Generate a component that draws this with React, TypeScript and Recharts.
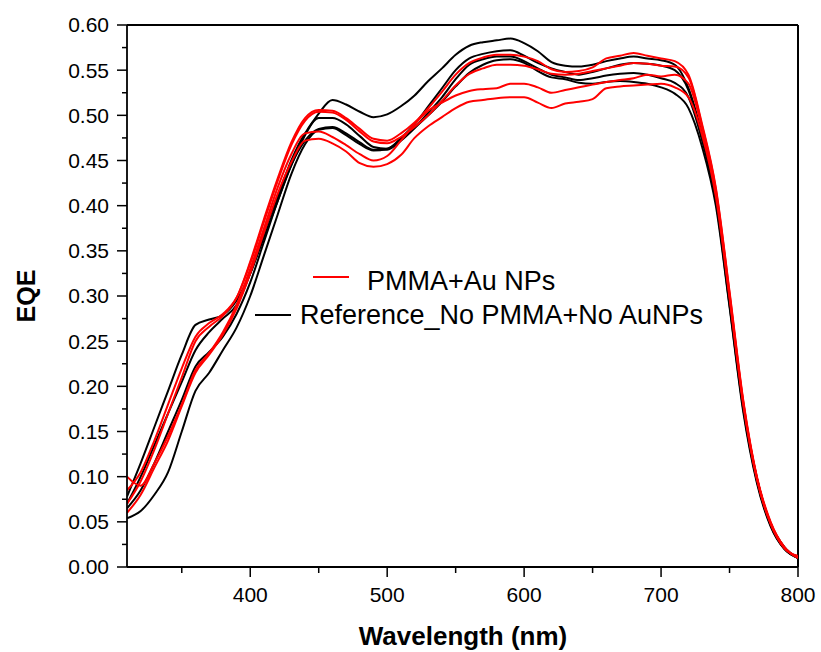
import { LineChart, Line, XAxis, YAxis, ReferenceLine } from 'recharts';

const wavelengths = [
  310, 320, 330, 340, 350, 360, 370, 380, 390, 400,
  410, 420, 430, 440, 450, 460, 470, 480, 490, 500,
  510, 520, 530, 540, 550, 560, 570, 580, 590, 600,
  610, 620, 630, 640, 650, 660, 670, 680, 690, 700,
  710, 720, 730, 740, 750, 760, 770, 780, 790, 800,
];

// PMMA + Au NPs devices (red)
const pmmaAu1 = [
  0.085, 0.105, 0.14, 0.18, 0.22, 0.255, 0.27, 0.28, 0.298, 0.338,
  0.385, 0.43, 0.47, 0.497, 0.506, 0.505, 0.497, 0.485, 0.474, 0.472,
  0.48, 0.492, 0.508, 0.526, 0.545, 0.558, 0.564, 0.567, 0.567, 0.565,
  0.56, 0.551, 0.548, 0.549, 0.553, 0.563, 0.566, 0.569, 0.566, 0.563,
  0.56, 0.545, 0.49, 0.42, 0.305, 0.185, 0.1, 0.05, 0.022, 0.01,
];
const pmmaAu2 = [
  0.07, 0.095, 0.13, 0.17, 0.21, 0.25, 0.266, 0.278, 0.298, 0.336,
  0.382, 0.427, 0.467, 0.494, 0.504, 0.503, 0.495, 0.482, 0.471, 0.469,
  0.476, 0.487, 0.5, 0.516, 0.533, 0.546, 0.552, 0.556, 0.556, 0.555,
  0.551, 0.546, 0.545, 0.546, 0.549, 0.552, 0.555, 0.558, 0.557, 0.555,
  0.554, 0.542, 0.488, 0.418, 0.303, 0.183, 0.099, 0.049, 0.022, 0.01,
];
const pmmaAu3 = [
  0.1, 0.09, 0.115, 0.145, 0.18, 0.218, 0.237, 0.26, 0.29, 0.33,
  0.375, 0.42, 0.457, 0.48, 0.482, 0.476, 0.467, 0.457, 0.45, 0.455,
  0.472, 0.49, 0.505, 0.514, 0.522, 0.527, 0.529, 0.53, 0.535, 0.535,
  0.531, 0.525, 0.528, 0.531, 0.534, 0.537, 0.539, 0.541, 0.545, 0.543,
  0.545, 0.535, 0.485, 0.415, 0.3, 0.182, 0.098, 0.048, 0.021, 0.012,
];
const pmmaAu4 = [
  0.06, 0.08, 0.11, 0.14, 0.178, 0.215, 0.235, 0.257, 0.286, 0.325,
  0.37, 0.413, 0.448, 0.472, 0.474, 0.469, 0.46, 0.447, 0.443, 0.446,
  0.456, 0.475, 0.488, 0.498, 0.508, 0.515, 0.517, 0.519, 0.52, 0.52,
  0.514, 0.508, 0.513, 0.515, 0.518, 0.53, 0.532, 0.533, 0.534, 0.535,
  0.531, 0.52, 0.478, 0.41, 0.298, 0.18, 0.097, 0.048, 0.021, 0.012,
];

// Reference devices, no PMMA / no Au NPs (black)
const reference1 = [
  0.078, 0.115, 0.155, 0.195, 0.235, 0.268, 0.274, 0.279, 0.295, 0.325,
  0.365, 0.405, 0.445, 0.478, 0.502, 0.517, 0.512, 0.504, 0.498, 0.501,
  0.51, 0.522, 0.538, 0.552, 0.567, 0.577, 0.581, 0.583, 0.585, 0.58,
  0.571, 0.559, 0.555, 0.554, 0.556, 0.56, 0.563, 0.565, 0.563, 0.561,
  0.556, 0.53, 0.478, 0.41, 0.295, 0.178, 0.098, 0.048, 0.022, 0.01,
];
const reference2 = [
  0.07, 0.1, 0.135, 0.17, 0.205, 0.24, 0.26, 0.275, 0.29, 0.325,
  0.37, 0.41, 0.45, 0.48, 0.497, 0.497, 0.49, 0.477, 0.465, 0.463,
  0.475, 0.49, 0.51, 0.53, 0.55, 0.563, 0.568, 0.571, 0.572, 0.566,
  0.558, 0.552, 0.548, 0.545, 0.548, 0.552, 0.556, 0.558, 0.557, 0.555,
  0.55, 0.528, 0.476, 0.41, 0.295, 0.178, 0.098, 0.048, 0.022, 0.01,
];
const reference3 = [
  0.065, 0.085, 0.115, 0.15, 0.185, 0.222, 0.238, 0.255, 0.28, 0.315,
  0.36, 0.405, 0.445, 0.472, 0.485, 0.487, 0.48, 0.47, 0.462, 0.462,
  0.472, 0.486, 0.503, 0.52, 0.54, 0.556, 0.562, 0.565, 0.565, 0.56,
  0.552, 0.545, 0.542, 0.539, 0.541, 0.544, 0.546, 0.547, 0.545, 0.541,
  0.536, 0.52, 0.472, 0.405, 0.29, 0.175, 0.095, 0.046, 0.02, 0.01,
];
const reference4 = [
  0.054, 0.062, 0.08, 0.105, 0.15, 0.195, 0.215, 0.24, 0.265, 0.3,
  0.345, 0.39, 0.435, 0.468, 0.484, 0.486, 0.478, 0.468, 0.461, 0.463,
  0.473, 0.486, 0.5, 0.515, 0.532, 0.547, 0.556, 0.561, 0.562, 0.558,
  0.549, 0.542, 0.54, 0.536, 0.535, 0.537, 0.538, 0.537, 0.535, 0.531,
  0.524, 0.508, 0.465, 0.4, 0.288, 0.172, 0.093, 0.045, 0.02, 0.01,
];

const xMajorTicks = [400, 500, 600, 700, 800];
const xMinorTicks = [350, 450, 550, 650, 750];
const yMajorTicks = [0, 0.05, 0.1, 0.15, 0.2, 0.25, 0.3, 0.35, 0.4, 0.45, 0.5, 0.55, 0.6];
const yMinorTicks = [0.025, 0.075, 0.125, 0.175, 0.225, 0.275, 0.325, 0.375, 0.425, 0.475, 0.525, 0.575];

const legendLabels = ['PMMA+Au NPs', 'Reference_No PMMA+No AuNPs'];

const redSeries = [pmmaAu1, pmmaAu2, pmmaAu3, pmmaAu4];
const blackSeries = [reference1, reference2, reference3, reference4];

const data = wavelengths.map((wl, i) => {
  const row: Record<string, number> = { wl };
  redSeries.forEach((s, k) => (row[`r${k}`] = s[i]));
  blackSeries.forEach((s, k) => (row[`b${k}`] = s[i]));
  return row;
});

const FONT = '"Liberation Sans", Arial, sans-serif';
const RED = '#ff0000';

const XTick = ({ x, y, payload }: any) => {
  const major = xMajorTicks.includes(payload.value);
  return (
    <g>
      <line x1={x} y1={y} x2={x} y2={y + (major ? 10 : 6)} stroke="#000" strokeWidth={1.5} />
      {major && (
        <text x={x} y={y + 35} textAnchor="middle" fontSize={21} fontFamily={FONT} fill="#000">
          {payload.value}
        </text>
      )}
    </g>
  );
};

const YTick = ({ x, y, payload }: any) => {
  const major = yMajorTicks.some(t => Math.abs(t - payload.value) < 1e-6);
  return (
    <g>
      <line x1={x - (major ? 10 : 5)} y1={y} x2={x} y2={y} stroke="#000" strokeWidth={1.5} />
      {major && (
        <text x={x - 18} y={y} dy="0.35em" textAnchor="end" fontSize={21} fontFamily={FONT} fill="#000">
          {payload.value.toFixed(2)}
        </text>
      )}
    </g>
  );
};

const App = () => {
  return (
    <div style={{ position: 'absolute', left: 0, top: 0, width: 821, height: 652, background: '#fff' }}>
      <LineChart
        width={821}
        height={652}
        data={data}
        margin={{ top: 25, right: 23, bottom: 0, left: 0 }}
      >
        <XAxis
          dataKey="wl"
          type="number"
          domain={[310, 800]}
          allowDataOverflow
          ticks={[...xMinorTicks, ...xMajorTicks].sort((a, b) => a - b)}
          interval={0}
          height={85}
          tickSize={0}
          tickMargin={0}
          tickLine={false}
          tick={<XTick />}
          axisLine={{ stroke: '#000', strokeWidth: 1.8 }}
        />
        <YAxis
          type="number"
          domain={[0, 0.6]}
          allowDataOverflow
          ticks={[...yMajorTicks, ...yMinorTicks].sort((a, b) => a - b)}
          interval={0}
          width={127}
          tickSize={0}
          tickMargin={0}
          tickLine={false}
          tick={<YTick />}
          axisLine={{ stroke: '#000', strokeWidth: 1.8 }}
        />
        <ReferenceLine y={0.6} stroke="#000" strokeWidth={2} />
        <ReferenceLine x={800} stroke="#000" strokeWidth={2} />
        {blackSeries.map((_, k) => (
          <Line
            key={`b${k}`}
            dataKey={`b${k}`}
            type="monotone"
            stroke="#000"
            strokeWidth={2}
            dot={false}
            isAnimationActive={false}
          />
        ))}
        {redSeries.map((_, k) => (
          <Line
            key={`r${k}`}
            dataKey={`r${k}`}
            type="monotone"
            stroke={RED}
            strokeWidth={2}
            dot={false}
            isAnimationActive={false}
          />
        ))}
      </LineChart>

      {/* legend */}
      <div style={{ position: 'absolute', left: 313, top: 276, width: 36, height: 2, background: RED }} />
      <div style={{ position: 'absolute', left: 367, top: 265, fontFamily: FONT, fontSize: 27, lineHeight: '32px', whiteSpace: 'nowrap' }}>
        {legendLabels[0]}
      </div>
      <div style={{ position: 'absolute', left: 255, top: 314, width: 36, height: 2, background: '#000' }} />
      <div style={{ position: 'absolute', left: 300, top: 299, fontFamily: FONT, fontSize: 27, lineHeight: '32px', whiteSpace: 'nowrap' }}>
        {legendLabels[1]}
      </div>

      {/* axis titles */}
      <div style={{ position: 'absolute', left: 463, top: 636, transform: 'translate(-50%, -50%)', fontFamily: FONT, fontSize: 26, fontWeight: 'bold', whiteSpace: 'nowrap' }}>
        Wavelength (nm)
      </div>
      <div style={{ position: 'absolute', left: 26, top: 296, transform: 'translate(-50%, -50%) rotate(-90deg)', fontFamily: FONT, fontSize: 25, fontWeight: 'bold', whiteSpace: 'nowrap' }}>
        EQE
      </div>
    </div>
  );
};

export default App;
